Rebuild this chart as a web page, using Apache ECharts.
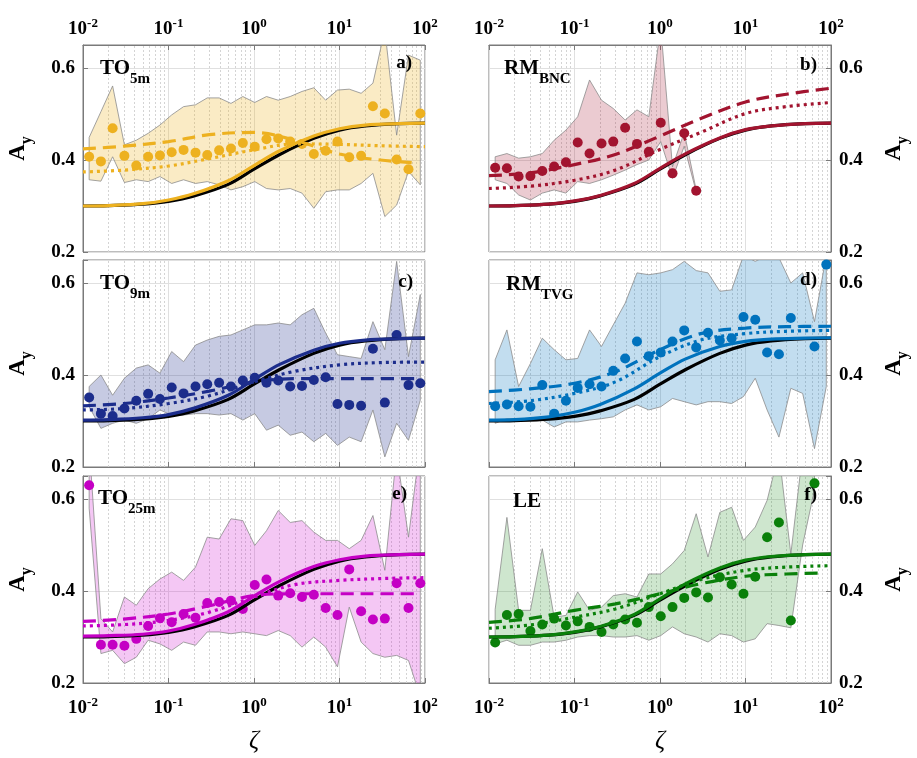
<!DOCTYPE html>
<html>
<head>
<meta charset="utf-8">
<script src="https://cdn.jsdelivr.net/npm/echarts@6/dist/echarts.min.js"></script>
<style>
html, body { margin: 0; padding: 0; background: #fff; }
#main { width: 917px; height: 758px; }
</style>
</head>
<body>
<div id="main"></div>
<script>
// bin centres (zeta), same for every panel
var zeta = [0.0118, 0.0162, 0.0222, 0.0305, 0.042, 0.0578, 0.0794, 0.109, 0.150, 0.207,
            0.284, 0.391, 0.538, 0.740, 1.02, 1.40, 1.92, 2.65, 3.64, 5.01,
            6.89, 9.47, 13.0, 17.9, 24.6, 33.9, 46.6, 64.1, 88.1];
// x of the smooth curves
var curveX = [0.01, 0.02, 0.05, 0.1, 0.2, 0.5, 1, 2, 5, 10, 20, 50, 100];
var fitX = [0.01, 0.03, 0.1, 0.3, 1, 3, 10, 30, 100];
var fitXShort = [0.01, 0.03, 0.1, 0.3, 1, 3, 10, 30, 75];
// minor grid positions
var minorX = [0.02, 0.03, 0.04, 0.05, 0.06, 0.07, 0.08, 0.09,
              0.2, 0.3, 0.4, 0.5, 0.6, 0.7, 0.8, 0.9,
              2, 3, 4, 5, 6, 7, 8, 9,
              20, 30, 40, 50, 60, 70, 80, 90];
var yTicks = [0.2, 0.4, 0.6];

// reference curve (black)
var blackRef = [0.300, 0.301, 0.304, 0.310, 0.322, 0.347, 0.380, 0.412, 0.447, 0.465, 0.474, 0.479, 0.480];

// a) TO 5m
var dotsA = [0.407, 0.397, 0.469, 0.409, 0.388, 0.407, 0.410, 0.417, 0.422, 0.416, 0.411, 0.421, 0.425, 0.437, 0.429,
             0.445, 0.447, 0.440, 0.435, 0.413, 0.420, 0.440, 0.406, 0.409, 0.517, 0.501, 0.401, 0.380, 0.501];
var upperA = [0.449, 0.505, 0.561, 0.433, 0.443, 0.458, 0.476, 0.498, 0.516, 0.520, 0.535, 0.535, 0.523, 0.538, 0.525,
              0.538, 0.530, 0.538, 0.549, 0.557, 0.530, 0.552, 0.554, 0.545, 0.567, 0.683, 0.454, 0.628, 0.617];
var lowerA = [0.357, 0.354, 0.407, 0.351, 0.357, 0.353, 0.364, 0.349, 0.357, 0.349, 0.353, 0.346, 0.335, 0.342, 0.353,
              0.338, 0.335, 0.338, 0.328, 0.295, 0.331, 0.335, 0.335, 0.349, 0.371, 0.277, 0.302, 0.375, 0.346];
var solidA = [0.300, 0.301, 0.305, 0.313, 0.327, 0.355, 0.388, 0.420, 0.452, 0.468, 0.476, 0.479, 0.480];
var dashA = [0.424, 0.430, 0.440, 0.455, 0.460, 0.443, 0.413, 0.400, 0.394];
var dotA = [0.374, 0.378, 0.387, 0.403, 0.422, 0.435, 0.434, 0.431, 0.429];

// b) RM BNC
var dotsB = [0.383, 0.382, 0.364, 0.365, 0.376, 0.386, 0.395, 0.438, 0.414, 0.436, 0.440, 0.470, 0.435, 0.418, 0.481,
             0.371, 0.458, 0.333];
var upperB = [0.407, 0.414, 0.404, 0.407, 0.414, 0.443, 0.465, 0.494, 0.574, 0.530, 0.512, 0.487, 0.509, 0.494, 0.690,
              0.385, 0.460, 0.335];
var lowerB = [0.357, 0.349, 0.324, 0.313, 0.328, 0.335, 0.328, 0.353, 0.349, 0.357, 0.367, 0.378, 0.390, 0.400, 0.440,
              0.360, 0.430, 0.331];
var solidB = [0.300, 0.301, 0.304, 0.311, 0.323, 0.349, 0.382, 0.414, 0.448, 0.466, 0.474, 0.479, 0.480];
var dashB = [0.366, 0.372, 0.390, 0.412, 0.452, 0.490, 0.526, 0.543, 0.556];
var dotB = [0.338, 0.343, 0.356, 0.378, 0.423, 0.460, 0.501, 0.516, 0.525];

// c) TO 9m
var dotsC = [0.351, 0.316, 0.311, 0.327, 0.344, 0.359, 0.348, 0.373, 0.360, 0.375, 0.380, 0.383, 0.375, 0.388, 0.394,
             0.383, 0.388, 0.375, 0.376, 0.389, 0.395, 0.337, 0.335, 0.333, 0.457, 0.340, 0.487, 0.378, 0.382];
var upperC = [0.375, 0.400, 0.356, 0.393, 0.415, 0.422, 0.404, 0.451, 0.429, 0.465, 0.476, 0.484, 0.487, 0.498, 0.509,
              0.509, 0.513, 0.509, 0.531, 0.545, 0.491, 0.444, 0.440, 0.436, 0.516, 0.455, 0.647, 0.440, 0.575];
var lowerC = [0.331, 0.284, 0.295, 0.302, 0.295, 0.305, 0.324, 0.313, 0.313, 0.316, 0.316, 0.313, 0.316, 0.302, 0.316,
              0.280, 0.291, 0.269, 0.276, 0.255, 0.273, 0.247, 0.265, 0.255, 0.324, 0.222, 0.295, 0.258, 0.345];
var solidC = [0.302, 0.303, 0.307, 0.314, 0.328, 0.356, 0.390, 0.423, 0.454, 0.469, 0.476, 0.479, 0.480];
var dashC = [0.333, 0.338, 0.350, 0.365, 0.385, 0.392, 0.392, 0.392, 0.392];
var dotC = [0.324, 0.327, 0.338, 0.355, 0.385, 0.408, 0.422, 0.427, 0.428];

// d) RM TVG
var dotsD = [0.332, 0.336, 0.332, 0.331, 0.378, 0.316, 0.344, 0.372, 0.380, 0.375, 0.409, 0.436, 0.473, 0.441, 0.449,
             0.473, 0.497, 0.460, 0.492, 0.475, 0.480, 0.526, 0.520, 0.449, 0.445, 0.524, null, 0.462, 0.640];
var upperD = [0.433, 0.498, 0.375, 0.425, 0.480, 0.455, 0.433, 0.436, 0.498, 0.462, 0.509, 0.556, 0.622, 0.618, 0.622,
              0.629, 0.647, 0.627, 0.622, 0.582, 0.585, 0.660, 0.647, 0.660, 0.655, 0.600, 0.622, 0.516, 0.660];
var lowerD = [0.295, 0.305, 0.305, 0.305, 0.302, 0.287, 0.298, 0.298, 0.302, 0.305, 0.309, 0.324, 0.335, 0.324, 0.331,
              0.349, 0.342, 0.335, 0.342, 0.342, 0.338, 0.353, 0.393, 0.324, 0.265, 0.371, 0.360, 0.240, 0.375];
var solidD = [0.302, 0.303, 0.309, 0.319, 0.336, 0.370, 0.404, 0.435, 0.462, 0.473, 0.478, 0.480, 0.481];
var dashD = [0.364, 0.370, 0.382, 0.407, 0.455, 0.490, 0.502, 0.505, 0.506];
var dotD = [0.338, 0.344, 0.360, 0.385, 0.440, 0.476, 0.490, 0.495, 0.497];

// e) TO 25m
var dotsE = [0.630, 0.283, 0.283, 0.281, 0.296, 0.324, 0.341, 0.332, 0.350, 0.342, 0.374, 0.376, 0.379, 0.361, 0.413,
             0.425, 0.390, 0.395, 0.387, 0.392, 0.363, 0.348, 0.447, 0.356, 0.338, 0.340, 0.417, 0.363, 0.417];
var upperE = [0.720, 0.340, 0.311, 0.387, 0.369, 0.405, 0.426, 0.441, 0.423, 0.452, 0.517, 0.513, 0.557, 0.553, 0.499,
              0.531, 0.575, 0.549, 0.553, 0.528, 0.510, 0.510, 0.492, 0.510, 0.564, 0.445, 0.700, 0.517, 0.720];
var lowerE = [0.580, 0.264, 0.271, 0.242, 0.256, 0.293, 0.285, 0.271, 0.289, 0.282, 0.311, 0.311, 0.307, 0.311, 0.307,
              0.303, 0.314, 0.303, 0.278, 0.300, 0.278, 0.235, 0.365, 0.289, 0.264, 0.256, 0.260, 0.249, 0.170];
var solidE = [0.302, 0.303, 0.306, 0.313, 0.327, 0.355, 0.389, 0.421, 0.453, 0.468, 0.476, 0.479, 0.480];
var dashE = [0.334, 0.339, 0.350, 0.368, 0.390, 0.394, 0.394, 0.394, 0.394];
var dotE = [0.324, 0.327, 0.336, 0.354, 0.387, 0.414, 0.423, 0.427, 0.429];

// f) LE
var dotsF = [0.288, 0.348, 0.350, 0.313, 0.327, 0.340, 0.325, 0.334, 0.322, 0.311, 0.327, 0.338, 0.331, 0.365, 0.345,
             0.365, 0.385, 0.397, 0.386, 0.430, 0.414, 0.394, 0.431, 0.517, 0.549, 0.336, null, 0.634, null];
var upperF = [0.360, 0.560, 0.358, 0.358, 0.492, 0.343, 0.347, 0.398, 0.358, 0.365, 0.390, 0.394, 0.387, 0.437, 0.437,
              0.459, 0.488, 0.568, 0.474, 0.571, 0.582, 0.510, 0.539, 0.597, 0.700, 0.480, 0.700, 0.750, null];
var lowerF = [0.285, 0.293, 0.282, 0.282, 0.289, 0.289, 0.293, 0.300, 0.303, 0.303, 0.300, 0.300, 0.303, 0.293, 0.303,
              0.322, 0.307, 0.300, 0.289, 0.307, 0.303, 0.289, 0.296, 0.329, 0.325, 0.320, 0.500, 0.620, null];
var solidF = [0.300, 0.301, 0.304, 0.311, 0.323, 0.349, 0.383, 0.416, 0.450, 0.467, 0.475, 0.479, 0.480];
var dashF = [0.332, 0.340, 0.358, 0.372, 0.394, 0.416, 0.432, 0.437, 0.439];
var dotF = [0.319, 0.326, 0.343, 0.361, 0.394, 0.425, 0.445, 0.452, 0.455];

var FONT = 'Liberation Serif';

var panels = [
    {name: ['TO', '5m'], tag: 'a)', color: '#EDB120', fill: 'rgba(237,177,32,0.26)',
     dots: dotsA, upper: upperA, lower: lowerA, solid: solidA, dash: dashA, dashX: fitXShort, dot: dotA},
    {name: ['RM', 'BNC'], tag: 'b)', color: '#A2142F', fill: 'rgba(162,20,47,0.22)',
     dots: dotsB, upper: upperB, lower: lowerB, solid: solidB, dash: dashB, dashX: fitX, dot: dotB},
    {name: ['TO', '9m'], tag: 'c)', color: '#1C2D8C', fill: 'rgba(28,45,140,0.25)',
     dots: dotsC, upper: upperC, lower: lowerC, solid: solidC, dash: dashC, dashX: fitXShort, dot: dotC},
    {name: ['RM', 'TVG'], tag: 'd)', color: '#0072BD', fill: 'rgba(0,114,189,0.24)',
     dots: dotsD, upper: upperD, lower: lowerD, solid: solidD, dash: dashD, dashX: fitX, dot: dotD},
    {name: ['TO', '25m'], tag: 'e)', color: '#C400C4', fill: 'rgba(204,0,204,0.22)',
     dots: dotsE, upper: upperE, lower: lowerE, solid: solidE, dash: dashE, dashX: fitXShort, dot: dotE},
    {name: ['LE', ''], tag: 'f)', color: '#0A800A', fill: 'rgba(10,128,10,0.2)',
     dots: dotsF, upper: upperF, lower: lowerF, solid: solidF, dash: dashF, dashX: fitXShort, dot: dotF}
];

// layout
var lefts = [83, 489];
var tops = [45, 260, 476];
var nameBoxes = [[100, 58], [504, 58], [100, 273], [506, 274], [98, 488], [513, 491]];
var tagBoxes = [[412, 63], [817, 65], [413, 282], [817, 280], [407, 494], [817, 495]];

function pairs(xs, ys) {
    var out = [];
    for (var i = 0; i < ys.length; i++) {
        if (ys[i] != null) out.push([xs[i], ys[i]]);
    }
    return out;
}

function bandSeries(idx, xs, lo, hi, fill) {
    return {
        type: 'custom', xAxisIndex: idx, yAxisIndex: idx, clip: true, silent: true, z: 2,
        data: [[0.01, 0.3]],
        renderItem: function (params, api) {
            var top = [], bottom = [];
            for (var k = 0; k < hi.length; k++) {
                if (hi[k] == null || lo[k] == null) continue;
                top.push(api.coord([xs[k], hi[k]]));
                bottom.unshift(api.coord([xs[k], lo[k]]));
            }
            return {
                type: 'polygon',
                shape: {points: top.concat(bottom)},
                style: {fill: fill, stroke: '#8c8c8c', lineWidth: 0.8}
            };
        }
    };
}

function lineSeries(idx, xs, ys, color, type, z) {
    return {
        type: 'line', xAxisIndex: idx, yAxisIndex: idx, data: pairs(xs, ys),
        showSymbol: false, smooth: 0.35, silent: true, z: z,
        lineStyle: {color: color, width: 3.2, type: type, cap: 'butt'}
    };
}

var grids = [], xAxes = [], yAxes = [], series = [], graphics = [];

panels.forEach(function (p, i) {
    var col = i % 2, row = Math.floor(i / 2);
    grids.push({left: lefts[col], top: tops[row], width: 342, height: 207,
                show: true, borderColor: '#7a7a7a', borderWidth: 1, outerBoundsMode: 'none'});
    xAxes.push({
        gridIndex: i, type: 'log', logBase: 10, min: 0.01, max: 100,
        position: row === 0 ? 'top' : 'bottom',
        axisLine: {show: true, lineStyle: {color: '#7a7a7a'}},
        axisTick: {show: true, inside: true, length: 5, lineStyle: {color: '#7a7a7a'}},
        splitLine: {show: true, lineStyle: {color: '#e0e0e0', width: 1}},
        axisLabel: {
            show: row !== 1, margin: row === 0 ? 6 : 13, color: '#000',
            formatter: function (v) {
                var e = Math.round(Math.log(v) / Math.LN10);
                return '{b|10}{s|' + e + '}';
            },
            rich: {
                b: {fontFamily: FONT, fontWeight: 'bold', fontSize: 19, lineHeight: 22, verticalAlign: 'bottom', color: '#000'},
                s: {fontFamily: FONT, fontWeight: 'bold', fontSize: 13, lineHeight: 13, verticalAlign: 'top', color: '#000'}
            }
        }
    });
    yAxes.push({
        gridIndex: i, type: 'value', min: 0.2, max: 0.65, interval: 0.2,
        position: col === 0 ? 'left' : 'right',
        name: '{a|A}{y|y}', nameLocation: 'middle', nameRotate: 90, nameGap: 52,
        nameTextStyle: {
            rich: {
                a: {fontFamily: FONT, fontWeight: 'bold', fontSize: 23, lineHeight: 24, verticalAlign: 'top', color: '#000'},
                y: {fontFamily: FONT, fontWeight: 'bold', fontSize: 16, lineHeight: 16, padding: [12, 0, 0, 0], verticalAlign: 'top', color: '#000'}
            }
        },
        axisLine: {show: true, lineStyle: {color: '#7a7a7a'}},
        axisTick: {show: true, inside: true, length: 5, lineStyle: {color: '#7a7a7a'}},
        splitLine: {show: true, lineStyle: {color: '#e0e0e0', width: 1}},
        axisLabel: {
            margin: 8, color: '#000', fontFamily: FONT, fontWeight: 'bold', fontSize: 19,
            formatter: function (v) {
                for (var k = 0; k < yTicks.length; k++) {
                    if (Math.abs(yTicks[k] - v) < 1e-6) return v.toFixed(1);
                }
                return '';
            }
        }
    });

    // minor decade grid lines
    series.push({
        type: 'line', xAxisIndex: i, yAxisIndex: i, data: [[0.01, 0.2]], showSymbol: false,
        lineStyle: {width: 0}, silent: true, z: 1,
        markLine: {
            silent: true, symbol: ['none', 'none'], label: {show: false}, animation: false, z: 1,
            lineStyle: {color: '#d4d4d4', width: 1, type: [2, 2]},
            data: minorX.map(function (v) { return {xAxis: v}; })
        }
    });
    series.push(bandSeries(i, zeta, p.lower, p.upper, p.fill));
    series.push({
        type: 'scatter', xAxisIndex: i, yAxisIndex: i, data: pairs(zeta, p.dots),
        symbol: 'circle', symbolSize: 10, silent: true, z: 3,
        itemStyle: {color: p.color, opacity: 1}
    });
    series.push(lineSeries(i, curveX, blackRef, '#000', 'solid', 4));
    series.push(lineSeries(i, curveX, p.solid, p.color, 'solid', 5));
    series.push(lineSeries(i, fitX, p.dot, p.color, [3, 4], 5));
    series.push(lineSeries(i, p.dashX, p.dash, p.color, [13, 7], 5));

    // panel name with subscript, and letter
    graphics.push({
        type: 'text', left: nameBoxes[i][0], top: nameBoxes[i][1], z: 10,
        style: {
            text: '{m|' + p.name[0] + '}' + (p.name[1] ? '{s|' + p.name[1] + '}' : ''),
            rich: {
                m: {fontFamily: FONT, fontWeight: 'bold', fontSize: 21, lineHeight: 22, verticalAlign: 'top', fill: '#000'},
                s: {fontFamily: FONT, fontWeight: 'bold', fontSize: 15, lineHeight: 16, padding: [14, 0, 0, 0], verticalAlign: 'top', fill: '#000'}
            }
        }
    });
    graphics.push({
        type: 'text', x: tagBoxes[i][0], y: tagBoxes[i][1], z: 10,
        style: {text: p.tag, fontFamily: FONT, fontWeight: 'bold', fontSize: 19, fill: '#000',
                textAlign: 'right', textVerticalAlign: 'middle'}
    });
});

// x-axis title
[[254, 741], [660, 741]].forEach(function (c) {
    graphics.push({
        type: 'text', x: c[0], y: c[1], z: 10,
        style: {text: 'ζ', fontFamily: FONT, fontStyle: 'italic', fontSize: 25, fill: '#000',
                textAlign: 'center', textVerticalAlign: 'middle'}
    });
});

var myChart = echarts.init(document.getElementById('main'));
myChart.setOption({
    animation: false,
    backgroundColor: '#fff',
    grid: grids,
    xAxis: xAxes,
    yAxis: yAxes,
    series: series,
    graphic: graphics
});
</script>
</body>
</html>
